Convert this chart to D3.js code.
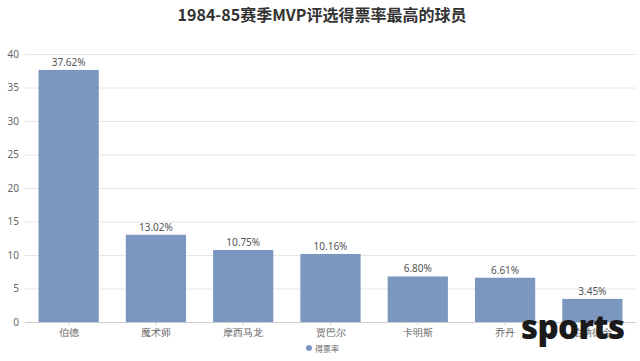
<!DOCTYPE html>
<html><head><meta charset="utf-8">
<script src="https://cdn.jsdelivr.net/npm/d3@7"></script>
<style>body{margin:0;background:#fff}svg{display:block;font-family:"Noto Sans CJK SC","Noto Sans",sans-serif}</style>
</head><body>
<svg id="c" width="640" height="361"></svg>
<script>
const categories = ["伯德","魔术师","摩西马龙","贾巴尔","卡明斯","乔丹","伯纳德金"];
const values = [37.62,13.02,10.75,10.16,6.80,6.61,3.45];
const yTicks = [0,5,10,15,20,25,30,35,40];
const seriesName = "得票率";
const title = "1984-85赛季MVP评选得票率最高的球员";

const svg = d3.select("#c");
const m = {l:25, r:4, t:54, b:39};
const W = 640, H = 361;
const x = d3.scaleBand().domain(categories).range([m.l, W-m.r]).paddingInner(0.31).paddingOuter(0.155);
const y = d3.scaleLinear().domain([0,40]).range([H-m.b, m.t]);
const color = "#7b97c0";

svg.append("text").attr("x",322).attr("y",21).attr("text-anchor","middle")
  .attr("font-size",16).attr("font-weight","bold").attr("fill","#333").text(title);

const ya = svg.append("g").attr("transform",`translate(${m.l},0)`)
  .call(d3.axisLeft(y).tickValues(yTicks).tickSize(-(W-m.r-m.l)).tickPadding(6));
ya.select(".domain").remove();
ya.selectAll(".tick line").attr("stroke","#e6e6e6");
ya.selectAll(".tick text").attr("fill","#666").attr("font-size",10).attr("font-family","'Noto Sans',sans-serif");

svg.append("g").selectAll("rect").data(values).join("rect")
  .attr("x",(d,i)=>x(categories[i])).attr("width",x.bandwidth())
  .attr("y",d=>y(d)).attr("height",d=>y(0)-y(d)).attr("fill",color);

const xa = svg.append("g").attr("transform",`translate(0,${y(0)})`)
  .call(d3.axisBottom(x).tickSize(3).tickPadding(4));
xa.select(".domain").attr("stroke","#ccc").attr("d",`M${m.l},0.5H${W-m.r}`);
xa.selectAll(".tick line").attr("stroke","#ccc");
xa.selectAll(".tick text").attr("fill","#666").attr("font-size",10);

svg.append("g").selectAll("text").data(values).join("text")
  .attr("x",(d,i)=>x(categories[i])+x.bandwidth()/2).attr("y",d=>y(d)-4)
  .attr("text-anchor","middle").attr("font-size",10).attr("fill","#555")
  .attr("font-family","'Noto Sans',sans-serif")
  .text(d=>d.toFixed(2)+"%");

svg.append("circle").attr("cx",309).attr("cy",348).attr("r",3).attr("fill",color);
svg.append("text").attr("x",315).attr("y",351.5).attr("font-size",8).attr("fill","#666").text(seriesName);

svg.append("text").attr("x",521).attr("y",339).attr("font-size",33).attr("font-weight",800)
  .attr("font-family","'Open Sans',sans-serif").attr("fill","#1a1a1a").attr("textLength",104).text("sports");
</script>
</body></html>
